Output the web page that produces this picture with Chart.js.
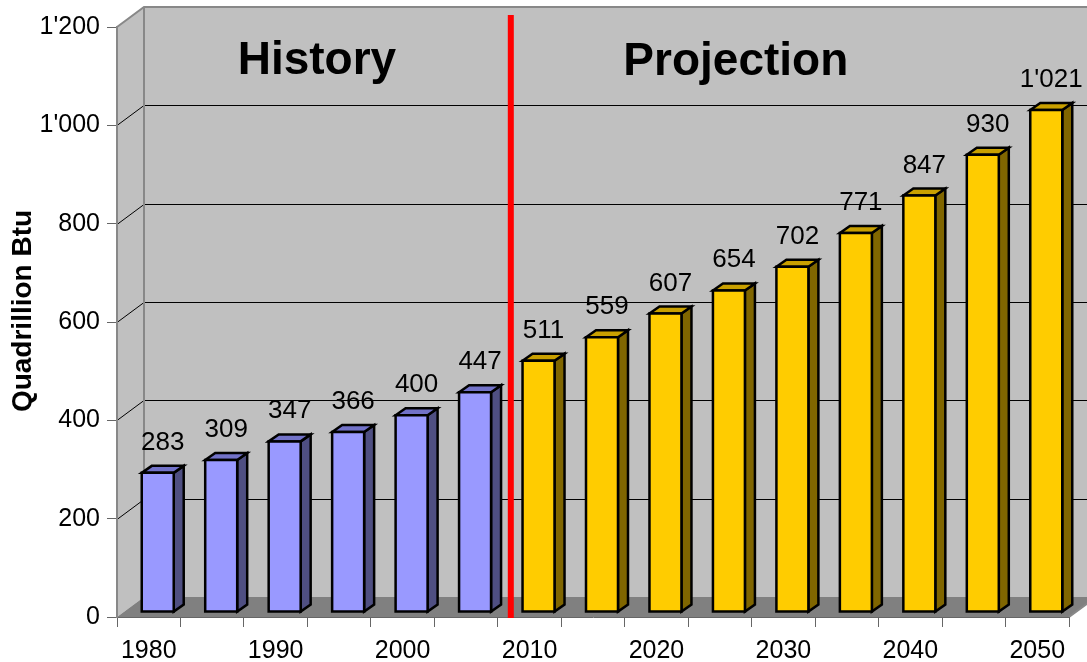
<!DOCTYPE html>
<html>
  <head>
    <meta charset="utf-8">
    <title>World Energy Consumption</title>
    <script src="https://cdn.jsdelivr.net/npm/chart.js"></script>
    <style>
      body { margin: 0; background: #fff; }
    </style>
  </head>
  <body>
    <canvas id="energyChart" width="1087" height="662"></canvas>

    <script>
      // World energy consumption, quadrillion Btu
      const years = ['1980', '1985', '1990', '1995', '2000', '2005', '2010', '2015',
                     '2020', '2025', '2030', '2035', '2040', '2045', '2050'];
      const consumption = [283, 309, 347, 366, 400, 447, 511, 559, 607, 654, 702, 771, 847, 930, 1021];
      const xTickLabels = ['1980', '', '1990', '', '2000', '', '2010', '', '2020', '', '2030', '', '2040', '', '2050'];
      const historyCount = 6; // 1980-2005 are actuals, the rest is projection

      const palette = {
        history:    { front: '#9999ff', top: '#7272c8', side: '#4f4f82' },
        projection: { front: '#ffcc00', top: '#c9a000', side: '#806600' }
      };
      const colorsFor = i => (i < historyCount ? palette.history : palette.projection);

      // fake 3D offsets
      const wallDepth = { x: 27, y: -20 };
      const barShift = { x: 9, y: -5 };
      const barDepth = { x: 10, y: -7 };

      const FONT = '"Liberation Sans", Arial, sans-serif';

      // 1'021 style thousands separator
      function fmt(v) {
        if (v >= 1000) return Math.floor(v / 1000) + "'" + String(v % 1000).padStart(3, '0');
        return String(v);
      }

      function poly(ctx, pts) {
        ctx.beginPath();
        ctx.moveTo(pts[0][0], pts[0][1]);
        for (let i = 1; i < pts.length; i++) ctx.lineTo(pts[i][0], pts[i][1]);
        ctx.closePath();
      }

      // back wall, side wall, floor and gridlines
      const wallsPlugin = {
        id: 'walls',
        beforeDraw(chart) {
          const { ctx, chartArea: a } = chart;
          const y = chart.scales.y;
          const dx = wallDepth.x, dy = wallDepth.y;
          ctx.save();

          ctx.fillStyle = '#c0c0c0';
          poly(ctx, [[a.left, a.bottom], [a.left, a.top], [a.left + dx, a.top + dy], [a.left + dx, a.bottom + dy]]);
          ctx.fill();
          poly(ctx, [[a.left + dx, a.top + dy], [a.right + dx, a.top + dy], [a.right + dx, a.bottom + dy], [a.left + dx, a.bottom + dy]]);
          ctx.fill();

          ctx.fillStyle = '#808080';
          poly(ctx, [[a.left, a.bottom], [a.right, a.bottom], [a.right + dx, a.bottom + dy], [a.left + dx, a.bottom + dy]]);
          ctx.fill();

          ctx.strokeStyle = '#000';
          ctx.lineWidth = 1;
          y.ticks.forEach(t => {
            if (t.value === 0 || t.value === y.max) return;
            const py = Math.round(y.getPixelForValue(t.value)) + 0.5;
            ctx.beginPath();
            ctx.moveTo(a.left, py);
            ctx.lineTo(a.left + dx, py + dy);
            ctx.lineTo(a.right + dx, py + dy);
            ctx.stroke();
          });

          ctx.strokeStyle = '#888';
          ctx.lineWidth = 2;
          ctx.beginPath();
          ctx.moveTo(a.left, a.top);
          ctx.lineTo(a.left + dx, a.top + dy);
          ctx.lineTo(a.right + dx, a.top + dy);
          ctx.moveTo(a.left + dx, a.top + dy);
          ctx.lineTo(a.left + dx, a.bottom + dy);
          ctx.moveTo(a.right, a.bottom);
          ctx.lineTo(a.right + dx, a.bottom + dy);
          ctx.stroke();

          ctx.restore();
        }
      };

      // bars drawn as boxes: front face, top and right side
      const barsPlugin = {
        id: 'bars3d',
        beforeDatasetDraw() { return false; },
        afterDatasetsDraw(chart) {
          const { ctx, chartArea: a } = chart;
          const meta = chart.getDatasetMeta(0);
          const values = chart.data.datasets[0].data;
          ctx.save();
          ctx.lineWidth = 2.5;
          ctx.strokeStyle = '#000';
          ctx.lineJoin = 'miter';

          meta.data.forEach((bar, i) => {
            const { x, y, base, width } = bar.getProps(['x', 'y', 'base', 'width'], true);
            const c = colorsFor(i);
            const x0 = x - width / 2 + barShift.x;
            const x1 = x + width / 2 + barShift.x;
            const top = y + barShift.y;
            const bottom = base + barShift.y;
            const ddx = barDepth.x, ddy = barDepth.y;

            ctx.fillStyle = c.side;
            poly(ctx, [[x1, top], [x1 + ddx, top + ddy], [x1 + ddx, bottom + ddy], [x1, bottom]]);
            ctx.fill(); ctx.stroke();

            ctx.fillStyle = c.top;
            poly(ctx, [[x0, top], [x0 + ddx, top + ddy], [x1 + ddx, top + ddy], [x1, top]]);
            ctx.fill(); ctx.stroke();

            ctx.fillStyle = c.front;
            poly(ctx, [[x0, top], [x1, top], [x1, bottom], [x0, bottom]]);
            ctx.fill(); ctx.stroke();

            ctx.fillStyle = '#000';
            ctx.font = '26px ' + FONT;
            ctx.textAlign = 'center';
            ctx.textBaseline = 'alphabetic';
            ctx.fillText(fmt(values[i]), (x0 + x1 + ddx) / 2, top - 23);
          });

          // divider between actual and projected years
          const xs = chart.scales.x;
          const divX = xs.getPixelForValue(historyCount - 0.5) + 13;
          ctx.fillStyle = '#ff0000';
          ctx.fillRect(divX - 3, a.top - 12, 6, a.bottom - a.top + 13);

          ctx.fillStyle = '#000';
          ctx.font = 'bold 46px ' + FONT;
          ctx.textAlign = 'center';
          ctx.textBaseline = 'alphabetic';
          ctx.fillText('History', xs.getPixelForValue(2.65), a.top + 47);
          ctx.fillText('Projection', xs.getPixelForValue(9.25), a.top + 48);

          // axis title
          ctx.save();
          ctx.translate(23, 311);
          ctx.rotate(-Math.PI / 2);
          ctx.font = 'bold 28px ' + FONT;
          ctx.textBaseline = 'middle';
          ctx.fillText('Quadrillion Btu', 0, 0);
          ctx.restore();

          ctx.restore();
        }
      };

      new Chart(document.getElementById('energyChart'), {
        type: 'bar',
        data: {
          labels: years,
          datasets: [{
            data: consumption,
            backgroundColor: consumption.map((v, i) => colorsFor(i).front),
            barPercentage: 0.504,
            categoryPercentage: 1
          }]
        },
        options: {
          responsive: false,
          animation: false,
          devicePixelRatio: 1,
          layout: { padding: { top: 27, right: 18, left: 0, bottom: 0 } },
          plugins: {
            legend: { display: false },
            tooltip: { enabled: false }
          },
          scales: {
            x: {
              grid: { offset: true, drawOnChartArea: false, drawTicks: true, tickLength: 10, color: '#666' },
              border: { display: true, color: '#666', width: 1 },
              ticks: {
                autoSkip: false,
                maxRotation: 0,
                padding: 9,
                color: '#000',
                font: { family: FONT, size: 25 },
                callback: (v, i) => xTickLabels[i]
              },
              afterFit: s => { s.height = 45; }
            },
            y: {
              min: 0,
              max: 1200,
              grid: { drawOnChartArea: false, drawTicks: true, tickLength: 10, color: '#666' },
              border: { display: true, color: '#888', width: 2 },
              ticks: {
                stepSize: 200,
                padding: 7,
                color: '#000',
                font: { family: FONT, size: 25 },
                callback: v => fmt(v)
              },
              afterFit: s => { s.width = 117; }
            }
          }
        },
        plugins: [wallsPlugin, barsPlugin]
      });
    </script>
  </body>
</html>
